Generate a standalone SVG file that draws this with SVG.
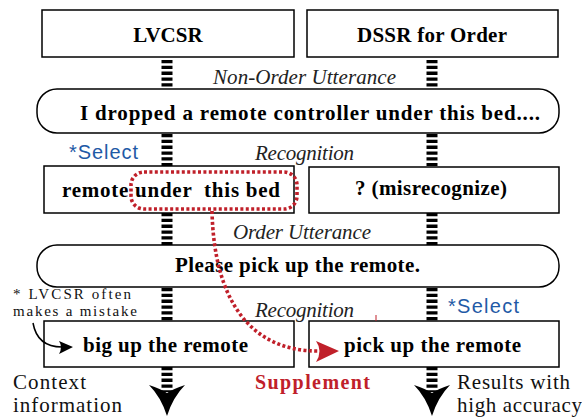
<svg xmlns="http://www.w3.org/2000/svg" width="582" height="417" viewBox="0 0 582 417">
<style>
.box{fill:#fff;stroke:#000;stroke-width:1.5}
.dash{stroke:#000;stroke-width:11;stroke-dasharray:3.3 2.5;fill:none}
.b{font-family:"Liberation Serif",serif;font-weight:bold;font-size:21px;fill:#000}
.it{font-family:"Liberation Serif",serif;font-style:italic;font-size:21px;fill:#222}
.rg{font-family:"Liberation Serif",serif;font-size:21px;fill:#111}
.sm{font-family:"Liberation Serif",serif;font-size:15px;fill:#111}
.sel{font-family:"Liberation Sans",sans-serif;font-size:20px;fill:#1f5aa6}
.red{stroke:#c0202a;stroke-width:3.6;stroke-dasharray:3 2.4;fill:none}
</style>
<defs>
<path id="dn" d="M-18,0 Q-6,4 0,8 Q6,4 18,0 Q6,12 0,31 Q-6,12 -18,0 Z"/>
</defs>
<g id="lvcsr"><rect class="box" x="42" y="10" width="252" height="47"/><text class="b" x="168" y="42" text-anchor="middle">LVCSR</text></g>
<g id="dssr"><rect class="box" x="307" y="10" width="251" height="47"/><text class="b" x="432" y="42" text-anchor="middle" textLength="150">DSSR for Order</text></g>
<text class="it" x="213" y="84" textLength="183">Non-Order Utterance</text>
<g id="utt1"><rect class="box" x="37" y="89" width="522" height="44" rx="20"/><text class="b" x="80" y="120" textLength="460">I dropped a remote controller under this bed....</text></g>
<text class="sel" x="69" y="159" textLength="69">*Select</text>
<text class="it" x="255" y="160" textLength="99">Recognition</text>
<g id="rec1"><rect class="box" x="44" y="166" width="250" height="47"/><text class="b" x="62" y="197" textLength="218" xml:space="preserve">remote under  this bed</text></g>
<g id="rec2"><rect class="box" x="309" y="167" width="250" height="46"/><text class="b" x="355" y="195" textLength="152">? (misrecognize)</text></g>
<text class="it" x="233" y="239" textLength="138">Order Utterance</text>
<g id="utt2"><rect class="box" x="37" y="245" width="522" height="42" rx="20"/><text class="b" x="175" y="272" textLength="245">Please pick up the remote.</text></g>
<text class="sm" x="13" y="299" textLength="118">* LVCSR often</text>
<text class="sm" x="13" y="316" textLength="124">makes a mistake</text>
<text class="it" x="255" y="317" textLength="99">Recognition</text>
<text class="sel" x="448" y="313" textLength="71">*Select</text>
<g id="rec3"><rect class="box" x="44" y="321" width="250" height="46"/><text class="b" x="83" y="352" textLength="165">big up the remote</text></g>
<g id="rec4"><rect class="box" x="309" y="321" width="250" height="46"/><text class="b" x="344" y="352" textLength="177">pick up the remote</text></g>
<text class="rg" x="13" y="389" textLength="73">Context</text>
<text class="rg" x="13" y="412" textLength="109">information</text>
<text class="b" x="255" y="389" style="fill:#c0202a;font-size:20px" textLength="115">Supplement</text>
<text class="rg" x="457" y="389" textLength="113">Results with</text>
<text class="rg" x="457" y="412" textLength="125">high accuracy</text>
<g id="connectors">
<path class="dash" d="M167,60 V87 M167,134 V166 M167,213 V245 M167,288 V321 M167,367 V392"/>
<path class="dash" d="M432,60 V87 M432,134 V166 M432,213 V245 M432,288 V321 M432,367 V392"/>
<use href="#dn" x="167" y="385"/>
<use href="#dn" x="432" y="385"/>
<rect id="select-box" class="red" x="131" y="172" width="166" height="37" rx="13"/>
<path class="red" d="M212,211 C214,300 250,351 318,351"/>
<path d="M339,351 L316,341 Q323,351 316,362 Z" fill="#c0202a"/>
<path d="M33,323 C36,340 46,347 62,347" fill="none" stroke="#000" stroke-width="1.5"/>
<path d="M73,347 L59,341 Q63,347 59,354 Z" fill="#000"/>
<line x1="376" y1="315" x2="376" y2="321" stroke="#c0202a" stroke-width="1"/>
</g>
</svg>
